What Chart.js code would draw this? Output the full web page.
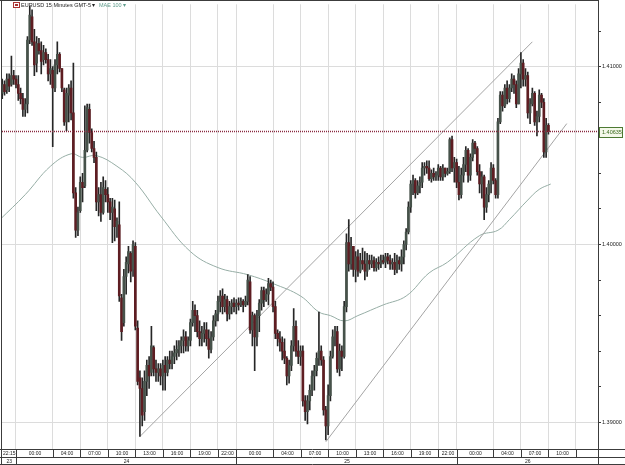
<!DOCTYPE html>
<html>
<head>
<meta charset="utf-8">
<script src="https://cdn.jsdelivr.net/npm/chart.js@4.4.1/dist/chart.umd.min.js"></script>
<style>
  html, body { margin: 0; padding: 0; background: #fff; }
</style>
</head>
<body>
<canvas id="chart" width="625" height="465"></canvas>
<script>
// EURUSD 15 minute candles, GMT-5. bar 0 = 23rd 22:15, one bar every 15 min
const firstBar = { day: 23, time: '22:15' };

const opens = [
  1.4092,1.4085,1.4090,1.4087,1.4093,1.4090,1.4095,1.4093,1.4090,1.4085,
  1.4082,1.4076,1.4079,1.4115,1.4128,1.4114,1.4102,1.4113,1.4109,1.4104,
  1.4108,1.4104,1.4096,1.4098,1.4088,1.4101,1.4107,1.4099,1.4087,1.4069,
  1.4084,1.4088,1.4074,1.4029,1.4008,1.4019,1.4035,1.4033,1.4053,1.4076,
  1.4063,1.4054,1.4049,1.4024,1.4028,1.4018,1.4031,1.4028,1.4024,1.4018,
  1.4020,1.4010,1.4011,1.3970,1.3956,1.3982,1.3989,1.3995,1.3986,1.3999,
  1.3953,1.3925,1.3919,1.3906,1.3923,1.3932,1.3928,1.3942,1.3930,1.3928,
  1.3930,1.3926,1.3932,1.3928,1.3935,1.3933,1.3937,1.3939,1.3941,1.3943,
  1.3946,1.3948,1.3943,1.3946,1.3956,1.3963,1.3960,1.3951,1.3947,1.3950,
  1.3952,1.3947,1.3941,1.3948,1.3957,1.3961,1.3968,1.3971,1.3965,1.3969,
  1.3961,1.3965,1.3967,1.3965,1.3967,1.3966,1.3968,1.3966,1.3968,1.3979,
  1.3952,1.3960,1.3948,1.3960,1.3967,1.3974,1.3969,1.3972,1.3978,1.3976,
  1.3965,1.3950,1.3947,1.3945,1.3940,1.3936,1.3926,1.3932,1.3943,1.3954,
  1.3940,1.3937,1.3940,1.3912,1.3906,1.3912,1.3918,1.3926,1.3929,1.3936,
  1.3940,1.3935,1.3907,1.3898,1.3915,1.3937,1.3948,1.3951,1.3930,1.3940,
  1.3937,1.3965,1.4001,1.3989,1.3999,1.3986,1.3993,1.3985,1.3991,1.3989,
  1.3985,1.3991,1.3989,1.3991,1.3987,1.3990,1.3989,1.3991,1.3990,1.3993,
  1.3991,1.3989,1.3990,1.3986,1.3991,1.3989,1.3993,1.4000,1.4007,1.4021,
  1.4034,1.4036,1.4029,1.4033,1.4035,1.4043,1.4044,1.4043,1.4037,1.4040,
  1.4038,1.4039,1.4043,1.4038,1.4043,1.4040,1.4041,1.4059,1.4043,1.4046,
  1.4035,1.4028,1.4039,1.4045,1.4053,1.4039,1.4049,1.4057,1.4054,1.4041,
  1.4034,1.4038,1.4021,1.4028,1.4034,1.4043,1.4036,1.4028,1.4069,1.4084,
  1.4078,1.4088,1.4082,1.4088,1.4093,1.4090,1.4079,1.4096,1.4102,1.4093,
  1.4095,1.4074,1.4079,1.4085,1.4069,1.4072,1.4084,1.4080,1.4052,1.4067
];
const highs = [
  1.4095,1.4093,1.4092,1.4096,1.4096,1.4106,1.4098,1.4095,1.4095,1.4088,
  1.4085,1.4082,1.4117,1.4134,1.4132,1.4121,1.4117,1.4116,1.4114,1.4112,
  1.4110,1.4107,1.4104,1.4100,1.4104,1.4114,1.4108,1.4099,1.4088,1.4088,
  1.4090,1.4092,1.4102,1.4032,1.4021,1.4038,1.4040,1.4078,1.4079,1.4079,
  1.4065,1.4058,1.4052,1.4032,1.4035,1.4038,1.4036,1.4032,1.4026,1.4026,
  1.4025,1.4015,1.4024,1.3972,1.3986,1.3993,1.3999,1.3996,1.4002,1.4001,
  1.3957,1.3929,1.3925,1.3929,1.3935,1.3937,1.3954,1.3943,1.3935,1.3933,
  1.3933,1.3935,1.3937,1.3937,1.3940,1.3940,1.3943,1.3946,1.3946,1.3948,
  1.3952,1.3951,1.3948,1.3958,1.3968,1.3966,1.3963,1.3957,1.3954,1.3956,
  1.3956,1.3952,1.3951,1.3960,1.3963,1.3971,1.3974,1.3975,1.3972,1.3971,
  1.3968,1.3969,1.3970,1.3969,1.3970,1.3970,1.3969,1.3971,1.3983,1.3982,
  1.3962,1.3961,1.3963,1.3969,1.3976,1.3976,1.3975,1.3981,1.3980,1.3979,
  1.3968,1.3952,1.3951,1.3948,1.3947,1.3937,1.3935,1.3946,1.3964,1.3957,
  1.3946,1.3943,1.3943,1.3915,1.3915,1.3921,1.3929,1.3932,1.3939,1.3962,
  1.3943,1.3937,1.3909,1.3921,1.3940,1.3952,1.3954,1.3954,1.3944,1.3943,
  1.3968,1.4006,1.4014,1.4004,1.3999,1.3996,1.3997,1.3995,1.3998,1.3996,
  1.3995,1.3994,1.3994,1.3993,1.3992,1.3993,1.3994,1.3994,1.3995,1.3995,
  1.3994,1.3992,1.3995,1.3994,1.3993,1.3997,1.4002,1.4009,1.4024,1.4036,
  1.4039,1.4037,1.4036,1.4038,1.4046,1.4046,1.4047,1.4047,1.4042,1.4043,
  1.4041,1.4045,1.4044,1.4045,1.4043,1.4043,1.4060,1.4061,1.4049,1.4048,
  1.4044,1.4043,1.4049,1.4055,1.4054,1.4051,1.4059,1.4058,1.4055,1.4045,
  1.4041,1.4039,1.4032,1.4036,1.4046,1.4045,1.4037,1.4071,1.4086,1.4086,
  1.4090,1.4092,1.4090,1.4096,1.4095,1.4092,1.4099,1.4108,1.4104,1.4099,
  1.4097,1.4082,1.4088,1.4086,1.4075,1.4087,1.4085,1.4082,1.4071,1.4068
];
const lows = [
  1.4082,1.4082,1.4084,1.4085,1.4086,1.4089,1.4090,1.4088,1.4081,1.4079,
  1.4072,1.4072,1.4074,1.4113,1.4112,1.4095,1.4097,1.4107,1.4096,1.4101,
  1.4102,1.4092,1.4090,1.4055,1.4086,1.4096,1.4097,1.4086,1.4067,1.4064,
  1.4069,1.4070,1.4026,1.4004,1.4005,1.4018,1.4024,1.4032,1.4052,1.4057,
  1.4052,1.4046,1.4019,1.4016,1.4013,1.4017,1.4024,1.4018,1.4014,1.4001,
  1.4002,1.4004,1.3968,1.3946,1.3954,1.3972,1.3984,1.3979,1.3982,1.3952,
  1.3921,1.3892,1.3898,1.3901,1.3915,1.3919,1.3926,1.3926,1.3923,1.3923,
  1.3921,1.3918,1.3918,1.3926,1.3930,1.3930,1.3933,1.3935,1.3937,1.3939,
  1.3939,1.3940,1.3940,1.3943,1.3954,1.3951,1.3948,1.3943,1.3943,1.3945,
  1.3943,1.3936,1.3939,1.3946,1.3954,1.3957,1.3962,1.3961,1.3962,1.3957,
  1.3958,1.3961,1.3962,1.3961,1.3963,1.3965,1.3962,1.3965,1.3966,1.3950,
  1.3943,1.3929,1.3943,1.3951,1.3963,1.3965,1.3968,1.3966,1.3974,1.3962,
  1.3947,1.3943,1.3940,1.3935,1.3933,1.3921,1.3922,1.3929,1.3940,1.3937,
  1.3933,1.3932,1.3909,1.3901,1.3899,1.3907,1.3915,1.3918,1.3926,1.3932,
  1.3932,1.3904,1.3890,1.3893,1.3912,1.3936,1.3943,1.3928,1.3926,1.3929,
  1.3936,1.3962,1.3985,1.3986,1.3982,1.3979,1.3982,1.3984,1.3986,1.3980,
  1.3982,1.3986,1.3987,1.3985,1.3985,1.3986,1.3987,1.3989,1.3987,1.3989,
  1.3986,1.3986,1.3983,1.3984,1.3986,1.3985,1.3989,1.3997,1.4006,1.4018,
  1.4028,1.4026,1.4028,1.4029,1.4032,1.4039,1.4040,1.4036,1.4035,1.4036,
  1.4036,1.4036,1.4036,1.4036,1.4038,1.4039,1.4040,1.4041,1.4035,1.4032,
  1.4025,1.4026,1.4035,1.4041,1.4035,1.4036,1.4047,1.4051,1.4039,1.4029,
  1.4026,1.4014,1.4018,1.4024,1.4029,1.4034,1.4026,1.4026,1.4068,1.4075,
  1.4077,1.4079,1.4080,1.4086,1.4085,1.4077,1.4079,1.4088,1.4089,1.4089,
  1.4071,1.4068,1.4078,1.4067,1.4061,1.4069,1.4077,1.4049,1.4049,1.4062
];
const closes = [
  1.4085,1.4090,1.4086,1.4093,1.4089,1.4095,1.4093,1.4090,1.4085,1.4082,
  1.4076,1.4079,1.4115,1.4129,1.4114,1.4101,1.4113,1.4109,1.4103,1.4108,
  1.4104,1.4096,1.4099,1.4088,1.4101,1.4107,1.4099,1.4088,1.4069,1.4085,
  1.4088,1.4074,1.4029,1.4008,1.4018,1.4035,1.4032,1.4053,1.4077,1.4063,
  1.4054,1.4049,1.4024,1.4028,1.4018,1.4032,1.4028,1.4024,1.4018,1.4021,
  1.4010,1.4013,1.3971,1.3951,1.3982,1.3990,1.3996,1.3985,1.4000,1.3954,
  1.3923,1.3919,1.3904,1.3923,1.3932,1.3926,1.3943,1.3930,1.3928,1.3930,
  1.3926,1.3932,1.3928,1.3935,1.3933,1.3937,1.3939,1.3941,1.3943,1.3946,
  1.3948,1.3943,1.3946,1.3956,1.3963,1.3960,1.3951,1.3947,1.3950,1.3952,
  1.3947,1.3941,1.3948,1.3957,1.3961,1.3968,1.3971,1.3965,1.3969,1.3961,
  1.3965,1.3967,1.3965,1.3967,1.3966,1.3968,1.3966,1.3968,1.3980,1.3952,
  1.3960,1.3948,1.3960,1.3967,1.3974,1.3969,1.3972,1.3978,1.3976,1.3965,
  1.3950,1.3947,1.3945,1.3940,1.3936,1.3926,1.3932,1.3943,1.3954,1.3940,
  1.3937,1.3940,1.3912,1.3906,1.3912,1.3918,1.3926,1.3929,1.3936,1.3940,
  1.3935,1.3907,1.3898,1.3915,1.3937,1.3948,1.3951,1.3930,1.3940,1.3937,
  1.3965,1.4001,1.3989,1.3999,1.3986,1.3993,1.3985,1.3991,1.3989,1.3985,
  1.3991,1.3989,1.3991,1.3987,1.3990,1.3989,1.3991,1.3990,1.3993,1.3991,
  1.3989,1.3990,1.3986,1.3991,1.3989,1.3993,1.4000,1.4007,1.4021,1.4034,
  1.4036,1.4029,1.4033,1.4035,1.4043,1.4044,1.4043,1.4037,1.4040,1.4038,
  1.4039,1.4043,1.4038,1.4043,1.4040,1.4041,1.4059,1.4043,1.4046,1.4035,
  1.4028,1.4039,1.4045,1.4053,1.4039,1.4049,1.4057,1.4054,1.4041,1.4034,
  1.4038,1.4021,1.4028,1.4034,1.4043,1.4036,1.4028,1.4069,1.4084,1.4078,
  1.4088,1.4082,1.4088,1.4093,1.4090,1.4079,1.4096,1.4102,1.4093,1.4095,
  1.4074,1.4079,1.4085,1.4069,1.4072,1.4084,1.4080,1.4052,1.4067,1.40635
];

// MAE 100 at these bars
const maBars   = [0, 11, 22, 31, 36, 42, 51, 59, 70, 83, 95, 108, 119, 131, 139, 144,
                  150, 156, 167, 177, 187, 195, 209, 217, 222, 230, 235, 240];
const maValues = [1.4014, 1.4028, 1.4044, 1.4051, 1.4049, 1.4050, 1.4044, 1.4035, 1.4016,
                  1.3996, 1.3987, 1.3983, 1.3978, 1.3971, 1.3962, 1.3960, 1.3957, 1.3960,
                  1.3966, 1.3971, 1.3984, 1.3990, 1.4005, 1.4008, 1.4014, 1.4025, 1.4031, 1.4034];

// hand drawn channel lines
const upperBars = [61, 232];
const upperPrices = [1.3892, 1.4114];
const lowerBars = [142, 247];
const lowerPrices = [1.3889, 1.4068];

const lastPrice = 1.40635;

// time axis: a grid line at each of these times, label sits in the box after it
const tickDays  = [23, 24, 24, 24, 24, 24, 24, 24, 24, 25, 25, 25, 25, 25, 25, 25, 25, 26, 26, 26, 26, 26];
const tickTimes = ['22:15', '00:00', '04:00', '07:00', '10:00', '13:00', '16:00', '19:00', '22:00',
                   '00:00', '04:00', '07:00', '10:00', '13:00', '16:00', '19:00', '22:00',
                   '00:00', '04:00', '07:00', '10:00', '13:00'];
const days = [23, 24, 25, 26];

const priceTicks = [1.390, 1.392, 1.394, 1.396, 1.398, 1.400, 1.402, 1.404, 1.406, 1.408, 1.410, 1.412];
const priceLabels = [1.39, 1.40, 1.41];

const FONT = '"Liberation Sans", Arial, sans-serif';
const UP = '#46524a';
const DOWN = '#5e1d22';

function barIndex(day, time) {
  const [h, m] = time.split(':').map(Number);
  const [h0, m0] = firstBar.time.split(':').map(Number);
  return ((day - firstBar.day) * 1440 + h * 60 + m - (h0 * 60 + m0)) / 15;
}

const tickBars = tickTimes.map((t, i) => barIndex(tickDays[i], t));
const lastBar = opens.length - 1;
const isLabeled = v => priceLabels.some(p => Math.abs(p - v) < 1e-6);

const wicks = opens.map((o, i) => ({ x: i, y: [lows[i], highs[i]] }));
const bodies = opens.map((o, i) => ({ x: i, y: [o, closes[i]] }));
const bodyColors = opens.map((o, i) => (closes[i] >= o ? UP : DOWN));

const xMin = 0.9, xMax = 260.6;

const framePlugin = {
  id: 'frame',
  afterDraw(chart) {
    const { ctx, chartArea: a, scales: { x, y } } = chart;
    const W = chart.width, H = chart.height;
    const row1 = a.bottom, row2 = a.bottom + 8, row3 = H - 1;
    ctx.save();
    ctx.strokeStyle = '#3c3c3c';
    ctx.lineWidth = 1;
    const seg = (x1, y1, x2, y2) => { ctx.beginPath(); ctx.moveTo(x1, y1); ctx.lineTo(x2, y2); ctx.stroke(); };
    seg(1.5, 0, 1.5, H);
    seg(0, 0.5, a.right, 0.5);
    seg(0, row1 + 0.5, W, row1 + 0.5);
    seg(0, row2 + 0.5, W, row2 + 0.5);
    seg(0, row3 + 0.5, W, row3 + 0.5);
    seg(a.right + 0.5, 0, a.right + 0.5, H);

    // time row
    ctx.font = '5px ' + FONT;
    ctx.fillStyle = '#222';
    ctx.textBaseline = 'middle';
    const px = tickBars.map(b => Math.round(x.getPixelForValue(b)) + 0.5);
    px.forEach((p, i) => {
      if (p > a.left + 1 && p < a.right) seg(p, row1, p, row2);
      const next = i + 1 < px.length ? px[i + 1] : a.right;
      if (tickBars[i] > lastBar) return;
      ctx.save();
      ctx.beginPath();
      ctx.rect(a.left + 1, row1, a.right - a.left - 1, 8);
      ctx.clip();
      if (p <= a.left + 1) {
        // first box is cut by the left edge
        ctx.textAlign = 'right';
        ctx.fillText(tickTimes[i], next - 1, row1 + 4.5);
      } else {
        ctx.textAlign = 'center';
        ctx.fillText(tickTimes[i], (p + next) / 2, row1 + 4.5);
      }
      ctx.restore();
    });

    // day row
    ctx.textAlign = 'center';
    const dayPx = days.map(d => Math.round(x.getPixelForValue(barIndex(d, '00:00'))) + 0.5);
    dayPx.forEach((p, i) => {
      if (p > a.left + 1 && p < a.right) seg(p, row1, p, H);
      const start = Math.max(p, a.left);
      const end = i + 1 < dayPx.length ? dayPx[i + 1] : a.right;
      ctx.fillText(String(days[i]), (start + end) / 2, row2 + 4.5);
    });

    // last price box
    const py = y.getPixelForValue(lastPrice);
    ctx.fillStyle = '#f4f8ea';
    ctx.fillRect(a.right + 1, Math.round(py) - 5, 24, 11);
    ctx.strokeStyle = '#4d7a33';
    ctx.strokeRect(a.right + 1.5, Math.round(py) - 4.5, 23, 10);
    ctx.fillStyle = '#3b6a1e';
    ctx.font = '5.5px ' + FONT;
    ctx.textAlign = 'left';
    ctx.fillText(lastPrice.toFixed(5), a.right + 4, Math.round(py) + 0.5);

    // title strip
    ctx.strokeStyle = '#a33';
    ctx.fillStyle = '#fff';
    ctx.fillRect(13, 2, 7, 6);
    ctx.strokeRect(13.5, 2.5, 6, 5);
    ctx.fillStyle = '#a33';
    ctx.fillRect(15, 4, 3, 2);
    ctx.font = '5.5px ' + FONT;
    ctx.fillStyle = '#222';
    ctx.textAlign = 'left';
    ctx.fillText('EURUSD 15 Minutes GMT-5', 21, 5.5);
    ctx.fillText('\u25BE', 92, 5.5);
    ctx.fillStyle = '#5f9c8c';
    ctx.fillText('MAE 100', 99, 5.5);
    ctx.fillText('\u25BE', 123, 5.5);
    ctx.restore();
  }
};

new Chart(document.getElementById('chart'), {
  type: 'bar',
  data: {
    datasets: [
      {
        type: 'line', label: 'MAE 100',
        data: maBars.map((b, i) => ({ x: b, y: maValues[i] })),
        borderColor: '#97aea6', borderWidth: 1, pointRadius: 0, tension: 0.4, order: 5
      },
      {
        type: 'line', label: 'upper channel',
        data: upperBars.map((b, i) => ({ x: b, y: upperPrices[i] })),
        borderColor: '#a4a4a4', borderWidth: 1, pointRadius: 0, order: 4
      },
      {
        type: 'line', label: 'lower channel',
        data: lowerBars.map((b, i) => ({ x: b, y: lowerPrices[i] })),
        borderColor: '#a4a4a4', borderWidth: 1, pointRadius: 0, order: 4
      },
      {
        label: 'wick', data: wicks, backgroundColor: '#262626',
        barThickness: 1, grouped: false, order: 2
      },
      {
        label: 'body', data: bodies, backgroundColor: bodyColors,
        barThickness: 2, grouped: false, minBarLength: 1, order: 1
      },
      {
        type: 'line', label: 'last',
        data: [{ x: xMin, y: lastPrice }, { x: xMax, y: lastPrice }],
        borderColor: '#8a2a40', borderWidth: 1.5, borderDash: [1, 1], pointRadius: 0, order: 0
      }
    ]
  },
  options: {
    responsive: false,
    animation: false,
    devicePixelRatio: 1,
    layout: { padding: { left: 2, top: 0, right: 0, bottom: 0 } },
    plugins: { legend: { display: false }, tooltip: { enabled: false } },
    scales: {
      x: {
        type: 'linear', min: xMin, max: xMax, offset: false,
        grid: { offset: false, color: '#dcdcdc', drawTicks: false },
        border: { display: false },
        ticks: { display: false },
        afterBuildTicks: s => { s.ticks = tickBars.map(v => ({ value: v })); },
        afterFit: s => { s.height = 16; }
      },
      y: {
        position: 'right', min: 1.388496, max: 1.413510, beginAtZero: false,
        grid: {
          color: c => (c.tick && isLabeled(c.tick.value) ? '#dcdcdc' : 'rgba(0,0,0,0)'),
          tickColor: '#3c3c3c', tickLength: 3
        },
        border: { display: false },
        ticks: {
          font: { family: FONT, size: 5.5 }, color: '#222', padding: 1, autoSkip: false,
          callback: v => (isLabeled(v) ? v.toFixed(5) : '')
        },
        afterBuildTicks: s => { s.ticks = priceTicks.map(v => ({ value: v })); },
        afterFit: s => { s.width = 27; }
      }
    }
  },
  plugins: [framePlugin]
});
</script>
</body>
</html>
